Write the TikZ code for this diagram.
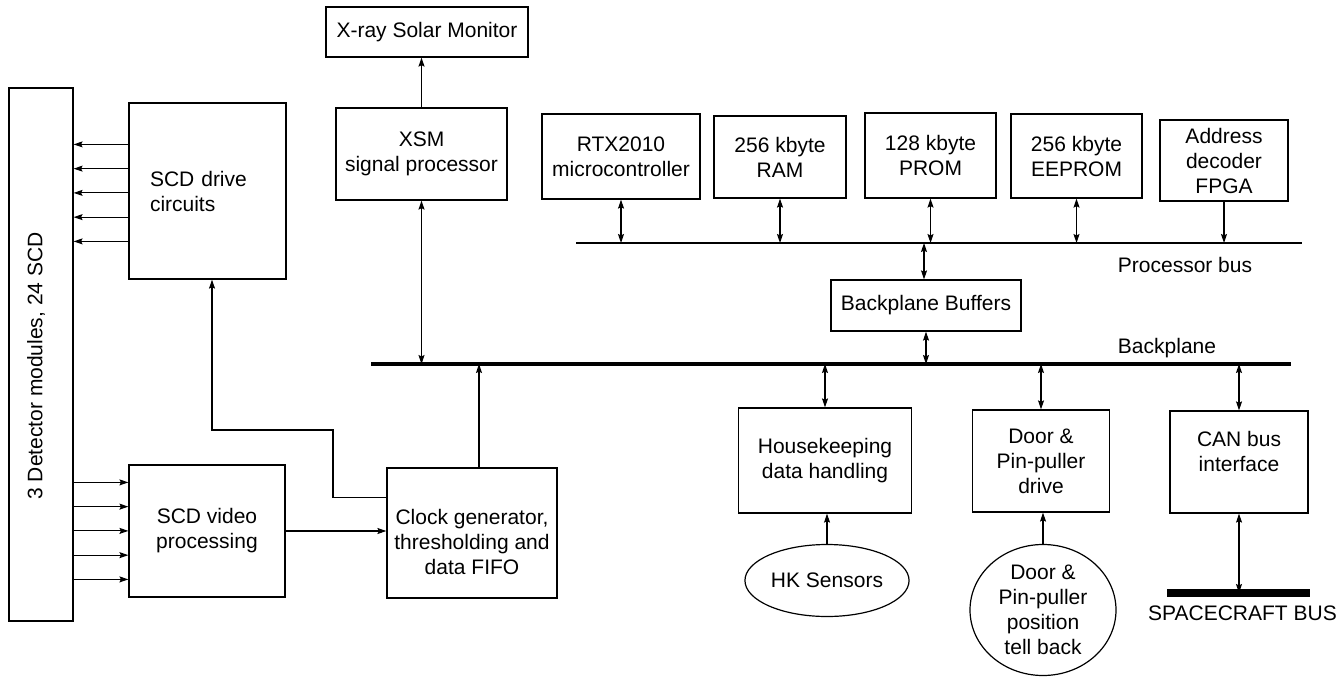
\documentclass[tikz,border=0pt]{standalone}
\usepackage{fontspec}
\setmainfont{Liberation Sans}
\usetikzlibrary{arrows.meta, shapes.geometric}

\begin{document}
\begin{tikzpicture}[
    x=1pt, y=-1pt,
    every node/.style = {font=\fontsize{21}{25}\selectfont, align=center, inner sep=2pt},
    blk/.style        = {draw, line width=1.2pt, rectangle},
    oval/.style       = {draw, line width=1.2pt, ellipse},
    bus/.style        = {line width=1.3pt},
    fatbus/.style     = {line width=4.5pt},
    scbus/.style      = {line width=7.5pt},
    arr/.style        = {line width=1.1pt, -{Stealth[length=9pt,width=6pt,inset=1.5pt]}},
    darr/.style       = {line width=1.1pt, {Stealth[length=9pt,width=6pt,inset=1.5pt]}-{Stealth[length=9pt,width=6pt,inset=1.5pt]}}
    ]
      \useasboundingbox (0,0) rectangle (1340,677);

      % blocks ---------------------------------------------------
      \node[blk, minimum width=64,  minimum height=533] (det)    at (41,354.5)   {};
      \node[rotate=90]                                   (detlab) at (36,366)     {3 Detector modules, 24 SCD};
      \node[blk, minimum width=157, minimum height=176, text width=115, align=left] (drive) at (207.5,191) {SCD drive\\circuits};
      \node[blk, minimum width=156, minimum height=132] (video)  at (207,531)    {SCD video\\processing};
      \node[blk, minimum width=170, minimum height=130,
            label={[yshift=-9]center:Clock generator,\\thresholding and\\data FIFO}] (clock) at (472,533) {};
      \node[blk, minimum width=202, minimum height=50]  (xray)   at (427,32)     {X-ray Solar Monitor};
      \node[blk, minimum width=171, minimum height=92]  (xsm)    at (421.5,154)  {XSM\\signal processor};
      \node[blk, minimum width=158, minimum height=85]  (rtx)    at (621,156.5)  {RTX2010\\microcontroller};
      \node[blk, minimum width=132, minimum height=82]  (ram)    at (780,157)    {256 kbyte\\RAM};
      \node[blk, minimum width=131, minimum height=85]  (prom)   at (930.5,155.5) {128 kbyte\\PROM};
      \node[blk, minimum width=131, minimum height=84]  (eeprom) at (1076.5,156) {256 kbyte\\EEPROM};
      \node[blk, minimum width=128, minimum height=81]  (fpga)   at (1224,160.5) {Address\\decoder\\FPGA};
      \node[blk, minimum width=190, minimum height=51]  (buf)    at (926,305.5)  {Backplane Buffers};
      \node[blk, minimum width=173, minimum height=105] (hk)     at (825,460.5)  {Housekeeping\\data handling};
      \node[blk, minimum width=137, minimum height=102] (door)   at (1041,461)   {Door \&\\Pin-puller\\drive};
      \node[blk, minimum width=138, minimum height=102,
            label={[yshift=11]center:CAN bus\\interface}] (can) at (1239,462) {};
      \node[oval, minimum width=148, minimum height=72]  (hks)   at (827,580.5)  {HK Sensors};
      \node[oval, minimum width=146, minimum height=131, inner sep=0pt] (dts) at (1043,610) {Door \&\\Pin-puller\\position\\tell back};

      % buses ----------------------------------------------------
      \coordinate (pbL) at (576,243);
      \coordinate (pbR) at (1302,243);
      \coordinate (bpL) at (371,364);
      \coordinate (bpR) at (1291,364);
      \coordinate (scL) at (1167,593);
      \coordinate (scR) at (1310,593);
      \draw[bus]    (pbL) -- (pbR);
      \draw[fatbus] (bpL) -- (bpR);
      \draw[scbus]  (scL) -- (scR);
      \node (pblab) at (1185,265)   {Processor bus};
      \node (bplab) at (1167,348)   {Backplane};
      \node (sclab) at (1242.5,613) {SPACECRAFT BUS};

      % connectors -----------------------------------------------
      \foreach \i in {0,...,4}{
        \coordinate (dr\i) at ([yshift={-42-24.25*\i}]drive.north west);
        \draw[arr] (dr\i) -- (dr\i -| det.east);
        \coordinate (vi\i) at ([yshift={-18-24.25*\i}]video.north west);
        \draw[arr] (vi\i -| det.east) -- (vi\i);
      }
      \coordinate (ck) at ([yshift=-30]clock.north west);
      \draw[arr] (ck) -| (333,430) -| ([xshift=4.5]drive.south);
      \draw[arr] (video.east) -- (video.east -| clock.west);
      \coordinate (ckt) at ([xshift=7]clock.north);
      \draw[arr] (ckt) -- (ckt |- bpL);
      \draw[arr]  (xsm.north) -- (xsm.north |- xray.south);
      \draw[darr] (xsm.south) -- (xsm.south |- bpL);
      \foreach \n in {rtx,ram,prom,eeprom}
        \draw[darr] (\n.south) -- (\n.south |- pbL);
      \draw[arr] (fpga.south) -- (fpga.south |- pbL);
      \coordinate (bft) at ([xshift=-2]buf.north);
      \draw[darr] (bft |- pbL) -- (bft);
      \draw[darr] (buf.south) -- (buf.south |- bpL);
      \foreach \n in {hk,door,can}
        \draw[darr] (\n.north |- bpL) -- (\n.north);
      \draw[arr]  (hks.north) -- (hks.north |- hk.south);
      \draw[arr]  (dts.north) -- (dts.north |- door.south);
      \draw[darr] (can.south) -- (can.south |- scL);
\end{tikzpicture}
\end{document}
